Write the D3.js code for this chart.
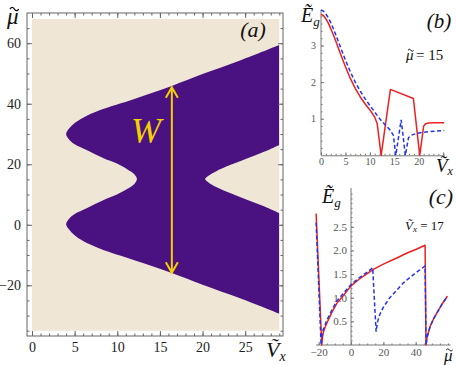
<!DOCTYPE html>
<html>
<head>
<meta charset="utf-8">
<script src="https://cdn.jsdelivr.net/npm/d3@7"></script>
<style>
  body { margin: 0; background: #fff; }
  svg { display: block; }
  text { font-family: "Liberation Serif", "DejaVu Serif", serif; }
</style>
</head>
<body>
<svg id="chart" width="457" height="365"></svg>
<script>
// ---- panel (a): topological region, boundary as [Vx, mu]
const edgeTopOuter = [[29, 59.4], [24.4, 54.3], [20, 49.8], [16.4, 45.9], [12, 41.6], [8, 37.9],
  [6, 35.4], [5, 33.6], [4.35, 31.8], [4, 30]];
const edgeLeftGap = [[4.35, 28.2], [5, 26.6], [6.4, 24.7], [8.4, 22], [9.9, 20.3], [11.2, 18.3],
  [12, 16.7], [12.3, 15.1], [12, 13.5], [11.2, 11.9], [9.9, 9.9], [8.4, 8.2], [6.4, 5.5],
  [5, 3.6], [4.35, 2], [4, 0.2]];
const edgeBottomOuter = [[4.35, -1.6], [5, -3.5], [6, -5.4], [8, -7.9], [12, -11.7], [16.4, -15.9],
  [20, -19.8], [24.4, -24.3], [29, -29.4]];
const edgeRightNotch = [[29, 3.8], [27.2, 6.1], [25.2, 8.3], [23.3, 10.4], [21.6, 12.5], [20.7, 14],
  [20.3, 15.1], [20.7, 16.2], [21.6, 17.7], [23.3, 19.8], [25.2, 21.9], [27.2, 24.1], [29, 26.4]];
const arrowW = { vx: 16.4, top: 45.8, bottom: -16.2 };
const aTicksX = [0, 5, 10, 15, 20, 25];
const aTicksY = [-20, 0, 20, 40, 60];

// ---- panel (b): gap vs Vx at mu = 15
const bRed = [[0, 3.85], [0.5, 3.82], [1, 3.73], [1.5, 3.61], [2, 3.46], [2.5, 3.3], [3, 3.13],
  [4, 2.77], [5, 2.42], [6, 2.1], [7, 1.83], [8, 1.6], [9, 1.41], [10, 1.24], [11, 1.04],
  [11.5, 0.86], [12.3, 0], [14.2, 1.8], [18.9, 1.55], [20.2, 0], [21, 0.8], [21.4, 0.86],
  [22, 0.88], [23, 0.89], [25.2, 0.89]];
const bBlue = [[0, 3.97], [0.5, 3.94], [1, 3.86], [1.5, 3.76], [2, 3.62], [2.5, 3.47], [3, 3.3],
  [4, 2.95], [5, 2.6], [6, 2.28], [7, 2.0], [8, 1.76], [9, 1.55], [10, 1.36], [11, 1.18],
  [12, 1.0], [13, 0.85], [14, 0.71], [14.8, 0.55], [15.3, 0], [16.4, 0.97], [17.25, 0],
  [17.9, 0.48], [18.5, 0.55], [19.6, 0.6], [21, 0.63], [22.5, 0.65], [25.2, 0.68]];
const bTicksX = [0, 5, 10, 15, 20, 25];
const bTicksY = [1, 2, 3];

// ---- panel (c): gap vs mu at Vx = 17
const cRed = [[-21.6, 2.78], [-18.1, 0], [-17.6, 0.18], [-17, 0.28], [-16, 0.38], [-15, 0.46],
  [-12, 0.68], [-8.8, 0.88], [-4, 1.08], [0, 1.25], [5, 1.39], [10, 1.51], [13.8, 1.6], [20, 1.71],
  [28.3, 1.84], [35, 1.95], [40, 2.02], [45.8, 2.11], [46.4, 0], [46.9, 0.14], [47.5, 0.22],
  [48.9, 0.39], [51, 0.55], [53, 0.67], [56, 0.85], [59.6, 1.03]];
const cBlue = [[-21.6, 2.59], [-18.5, 0], [-18, 0.18], [-17.3, 0.32], [-16, 0.43], [-15, 0.52],
  [-12, 0.73], [-8.8, 0.93], [-4, 1.12], [0, 1.28], [5, 1.42], [10, 1.54], [13.4, 1.63],
  [15.5, 0.28], [16, 0.4], [16.5, 0.5], [17.2, 0.59], [18, 0.66], [20, 0.8], [24, 1.0],
  [28.3, 1.16], [32, 1.3], [36.5, 1.43], [41, 1.55], [45.8, 1.67], [46.4, 0], [46.9, 0.14],
  [47.5, 0.22], [48.9, 0.39], [51, 0.55], [53, 0.67], [56, 0.85], [59.6, 1.03]];
const cTicksX = [-20, 0, 20, 40];
const cTicksY = [0.5, 1.0, 1.5, 2.0, 2.5];

const svg = d3.select('#chart');
const beige = '#efe6d6';
const purple = '#4a1180';
const yellow = '#f3d000';
const red = '#ee2020';
const blue = '#2233ee';

// italic letter with a small tilde stroke drawn above it
function tilded(g, x, y, size, letter) {
  const t = g.append('text').attr('x', x).attr('y', y)
    .attr('font-size', size).attr('font-style', 'italic').attr('fill', '#111')
    .text(letter);
  const w = size * 0.38, h = size * 0.09;
  const cx = x + size * 0.32, cy = y - size * 0.68;
  g.append('path')
    .attr('d', `M${cx - w / 2},${cy + h / 3}q${w / 4},${-h * 1.6} ${w / 2},0t${w / 2},0`)
    .attr('fill', 'none').attr('stroke', '#111').attr('stroke-width', Math.max(1, size * 0.055));
  return t;
}

// ================= panel (a) =================
const xa = d3.scaleLinear([0, 29], [32, 279.3]);
const ya = d3.scaleLinear([-35, 68], [330.7, 19]);

svg.append('defs').append('clipPath').attr('id', 'clipA')
  .append('rect')
  .attr('x', xa(0)).attr('y', ya(68))
  .attr('width', xa(29) - xa(0)).attr('height', ya(-35) - ya(68));

const gA = svg.append('g');
gA.append('rect')
  .attr('x', xa(0)).attr('y', ya(68))
  .attr('width', xa(29) - xa(0)).attr('height', ya(-35) - ya(68))
  .attr('fill', beige);

const lineA = d3.line().x(d => xa(d[0])).y(d => ya(d[1])).curve(d3.curveCatmullRom.alpha(0.5));
const part1 = lineA(edgeTopOuter.concat(edgeLeftGap, edgeBottomOuter));
const part2 = lineA(edgeRightNotch).replace(/^M/, 'L');
gA.append('path')
  .attr('d', part1 + part2 + 'Z')
  .attr('fill', purple)
  .attr('clip-path', 'url(#clipA)');

// W arrow
const arrowHead = (x, y, dir) => `M${x - 6},${y + dir * 10.5}L${x},${y}L${x + 6},${y + dir * 10.5}`;
gA.append('line')
  .attr('x1', xa(arrowW.vx)).attr('x2', xa(arrowW.vx))
  .attr('y1', ya(arrowW.top) + 1).attr('y2', ya(arrowW.bottom) - 1)
  .attr('stroke', yellow).attr('stroke-width', 2);
gA.append('path').attr('d', arrowHead(xa(arrowW.vx), ya(arrowW.top) + 1, 1))
  .attr('fill', 'none').attr('stroke', yellow).attr('stroke-width', 2);
gA.append('path').attr('d', arrowHead(xa(arrowW.vx), ya(arrowW.bottom) - 1, -1))
  .attr('fill', 'none').attr('stroke', yellow).attr('stroke-width', 2);
gA.append('text')
  .attr('x', 146).attr('y', 142.5)
  .attr('text-anchor', 'middle')
  .attr('font-size', 36).attr('font-style', 'italic')
  .attr('fill', yellow)
  .text('W');

// frame and ticks (inward)
const frameCol = '#666';
const fx0 = 27, fx1 = 283, fy0 = 13, fy1 = 336;
gA.append('rect')
  .attr('x', fx0).attr('y', fy0).attr('width', fx1 - fx0).attr('height', fy1 - fy0)
  .attr('fill', 'none').attr('stroke', frameCol).attr('stroke-width', 1);

const minorX = d3.range(0, 30, 1);
const minorY = d3.range(-35, 70, 5);
function frameAxis(axisFn, scale, major, minor, transform, labels) {
  const gMinor = gA.append('g').attr('transform', transform)
    .call(axisFn(scale).tickValues(minor).tickSizeInner(-2.5).tickSizeOuter(0).tickFormat(''));
  const gMajor = gA.append('g').attr('transform', transform)
    .call(axisFn(scale).tickValues(major).tickSizeInner(-5).tickSizeOuter(0).tickPadding(6)
      .tickFormat(labels ? d3.format('d') : ''));
  [gMinor, gMajor].forEach(g => {
    g.select('.domain').remove();
    g.selectAll('line').attr('stroke', frameCol);
  });
  gMajor.selectAll('text').attr('font-size', 14).attr('fill', '#222')
    .attr('font-family', '"Liberation Serif", serif');
}
frameAxis(d3.axisBottom, xa, aTicksX, minorX, `translate(0,${fy1})`, true);
frameAxis(d3.axisTop, xa, aTicksX, minorX, `translate(0,${fy0})`, false);
frameAxis(d3.axisLeft, ya, aTicksY, minorY, `translate(${fx0},0)`, true);
frameAxis(d3.axisRight, ya, aTicksY, minorY, `translate(${fx1},0)`, false);

gA.append('text').attr('x', 253).attr('y', 37).attr('text-anchor', 'middle')
  .attr('font-size', 22).attr('font-style', 'italic').attr('fill', '#111').text('(a)');
tilded(gA, 7, 24, 23, '\u03bc');
const vxA = gA.append('text').attr('x', 266).attr('y', 357)
  .attr('font-size', 22).attr('font-style', 'italic').attr('fill', '#111');
vxA.append('tspan').text('\u1e7c');
vxA.append('tspan').attr('font-size', 14).attr('dy', 4).text('x');

// ================= helpers for (b), (c) =================
const axisCol = '#777';
function styleAxis(g, fontSize) {
  g.select('.domain').attr('stroke', axisCol);
  g.selectAll('line').attr('stroke', axisCol);
  g.selectAll('text').attr('font-size', fontSize).attr('fill', '#555')
    .attr('font-family', '"Liberation Serif", serif');
}

// ================= panel (b) =================
const xb = d3.scaleLinear([0, 25.2], [321, 444.2]);
const yb = d3.scaleLinear([0, 4], [155.3, 8.9]);
const gB = svg.append('g');

const bx = gB.append('g').attr('transform', `translate(0,${yb(0)})`)
  .call(d3.axisBottom(xb).tickValues(bTicksX).tickSizeInner(-3).tickSizeOuter(0).tickPadding(3)
    .tickFormat(d => d <= 20 ? d : ''));
styleAxis(bx, 10);
const bxMinor = gB.append('g').attr('transform', `translate(0,${yb(0)})`)
  .call(d3.axisBottom(xb).tickValues(d3.range(0, 26, 1)).tickSizeInner(-1.5).tickSizeOuter(0).tickFormat(''));
bxMinor.select('.domain').remove();
bxMinor.selectAll('line').attr('stroke', axisCol);

const by = gB.append('g').attr('transform', `translate(${xb(0)},0)`)
  .call(d3.axisLeft(yb).tickValues(bTicksY).tickSizeInner(-3).tickSizeOuter(0).tickPadding(5)
    .tickFormat(d3.format('d')));
styleAxis(by, 10);
by.select('.domain').attr('d', `M0,${yb(0)}V${yb(3.97)}`);
const byMinor = gB.append('g').attr('transform', `translate(${xb(0)},0)`)
  .call(d3.axisLeft(yb).tickValues(d3.range(0.2, 4, 0.2)).tickSizeInner(-1.5).tickSizeOuter(0).tickFormat(''));
byMinor.select('.domain').remove();
byMinor.selectAll('line').attr('stroke', axisCol);

const lineB = d3.line().x(d => xb(d[0])).y(d => yb(d[1]));
gB.append('path').attr('d', lineB(bRed)).attr('fill', 'none')
  .attr('stroke', red).attr('stroke-width', 1.5).attr('stroke-linejoin', 'round');
gB.append('path').attr('d', lineB(bBlue)).attr('fill', 'none')
  .attr('stroke', blue).attr('stroke-width', 1.5).attr('stroke-dasharray', '4,2.5');

const ebLabel = gB.append('text').attr('x', 301).attr('y', 22)
  .attr('font-size', 20).attr('font-style', 'italic').attr('fill', '#111');
ebLabel.append('tspan').text('\u1ebc');
ebLabel.append('tspan').attr('font-size', 13).attr('dy', 4).text('g');
gB.append('text').attr('x', 439).attr('y', 28).attr('text-anchor', 'middle')
  .attr('font-size', 21).attr('font-style', 'italic').attr('fill', '#111').text('(b)');
tilded(gB, 406, 60, 15, '\u03bc');
gB.append('text').attr('x', 416).attr('y', 60).attr('font-size', 15).attr('fill', '#111')
  .text('= 15');
const vxB = gB.append('text').attr('x', 436).attr('y', 172)
  .attr('font-size', 19).attr('font-style', 'italic').attr('fill', '#111');
vxB.append('tspan').text('\u1e7c');
vxB.append('tspan').attr('font-size', 12).attr('dy', 3).text('x');

// ================= panel (c) =================
const xc = d3.scaleLinear([-20, 40], [318.7, 415.7]);
const yc = d3.scaleLinear([0, 2.5], [345, 226.75]);
const gC = svg.append('g');

const cx = gC.append('g').attr('transform', `translate(0,${yc(0)})`)
  .call(d3.axisBottom(xc).tickValues(cTicksX).tickSizeInner(-3).tickSizeOuter(0).tickPadding(3));
styleAxis(cx, 11);
cx.select('.domain').attr('d', `M${xc(-21.6)},0H${xc(61.6)}`);
const cxMinor = gC.append('g').attr('transform', `translate(0,${yc(0)})`)
  .call(d3.axisBottom(xc).tickValues(d3.range(-20, 62, 5)).tickSizeInner(-1.5).tickSizeOuter(0).tickFormat(''));
cxMinor.select('.domain').remove();
cxMinor.selectAll('line').attr('stroke', axisCol);

const cy = gC.append('g').attr('transform', `translate(${xc(0)},0)`)
  .call(d3.axisLeft(yc).tickValues(cTicksY).tickSizeInner(-3).tickSizeOuter(0).tickPadding(4)
    .tickFormat(d3.format('.1f')));
styleAxis(cy, 11);
cy.select('.domain').attr('d', `M0,${yc(0)}V${yc(3.32)}`);
const cyMinor = gC.append('g').attr('transform', `translate(${xc(0)},0)`)
  .call(d3.axisLeft(yc).tickValues(d3.range(0.1, 3.3, 0.1)).tickSizeInner(-1.5).tickSizeOuter(0).tickFormat(''));
cyMinor.select('.domain').remove();
cyMinor.selectAll('line').attr('stroke', axisCol);

const lineC = d3.line().x(d => xc(d[0])).y(d => yc(d[1]));
gC.append('path').attr('d', lineC(cRed)).attr('fill', 'none')
  .attr('stroke', red).attr('stroke-width', 1.5).attr('stroke-linejoin', 'round');
gC.append('path').attr('d', lineC(cBlue)).attr('fill', 'none')
  .attr('stroke', blue).attr('stroke-width', 1.5).attr('stroke-dasharray', '4,2.5');

const ecLabel = gC.append('text').attr('x', 322).attr('y', 203)
  .attr('font-size', 20).attr('font-style', 'italic').attr('fill', '#111');
ecLabel.append('tspan').text('\u1ebc');
ecLabel.append('tspan').attr('font-size', 13).attr('dy', 4).text('g');
gC.append('text').attr('x', 441).attr('y', 204).attr('text-anchor', 'middle')
  .attr('font-size', 22).attr('font-style', 'italic').attr('fill', '#111').text('(c)');
const vxLabel = gC.append('text').attr('x', 405).attr('y', 230)
  .attr('font-size', 13).attr('fill', '#111');
vxLabel.append('tspan').attr('font-style', 'italic').text('\u1e7c');
vxLabel.append('tspan').attr('font-style', 'italic').attr('font-size', 9).attr('dy', 2).text('x');
vxLabel.append('tspan').attr('dy', -2).text(' = 17');
tilded(gC, 444, 361, 17, '\u03bc');
</script>
</body>
</html>
